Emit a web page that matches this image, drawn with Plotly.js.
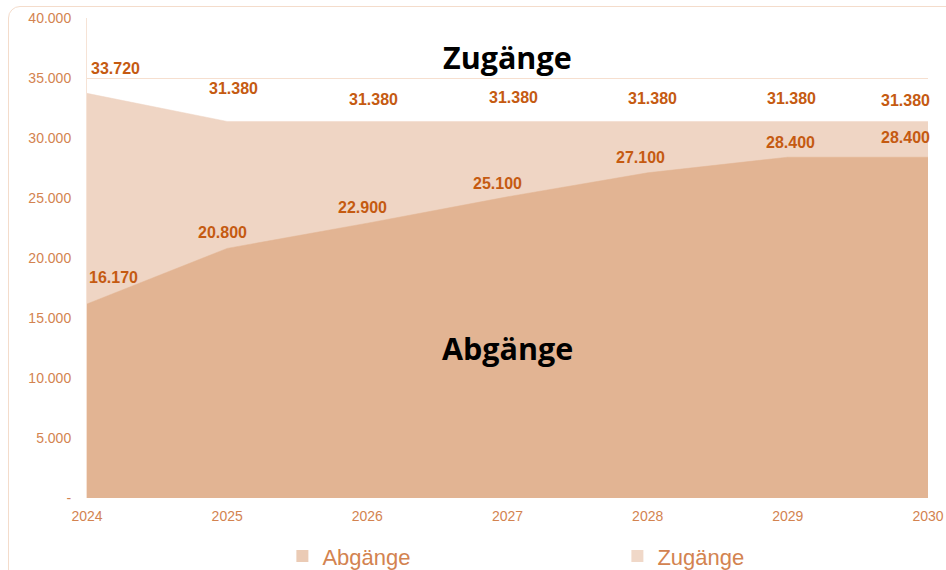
<!DOCTYPE html>
<html>
<head>
<meta charset="utf-8">
<script src="https://cdn.plot.ly/plotly-3.0.1.min.js"></script>
<style>
  html, body { margin: 0; padding: 0; background: #ffffff; overflow: hidden; }
  #frame { position: absolute; left: 8px; top: 6px; width: 1000px; height: 640px;
           border: 1.5px solid #F4DCCB; border-radius: 12px; box-sizing: border-box; }
  #chart { position: absolute; left: 0; top: 0; width: 946px; height: 570px; }
</style>
</head>
<body>
<div id="frame"></div>
<div id="chart"></div>
<script>
// ---- data ----
const years = [2024, 2025, 2026, 2027, 2028, 2029, 2030];
const abgaenge = [16170, 20800, 22900, 25100, 27100, 28400, 28400];
const zugaenge = [33720, 31380, 31380, 31380, 31380, 31380, 31380];
const yTickVals = [0, 5000, 10000, 15000, 20000, 25000, 30000, 35000, 40000];
const yTickText = ['-', '5.000', '10.000', '15.000', '20.000', '25.000', '30.000', '35.000', '40.000'];

// label offsets (styling, px)
const zugShiftX = [28, 6, 6, 6, 5, 4, -23];
const zugShiftY = [25, 33, 22, 24, 23, 23, 21];
const abgShiftX = [26, -5, -5, -10, -7, 3, -23];
const abgShiftY = [26, 16, 16, 13, 15, 15, 20];

function fmt(v) {
  return String(v).replace(/\B(?=(\d{3})+(?!\d))/g, '.');
}

const cAbg = '#E2B493';
const cZug = '#EFD5C4';
const cLabel = '#C55A11';
const cTick = '#D38350';

const traces = [
  {
    x: years, y: zugaenge, name: 'Zugänge', type: 'scatter', mode: 'lines',
    fill: 'tozeroy', fillcolor: cZug, line: { color: cZug, width: 0.5 },
    showlegend: false, hoverinfo: 'skip'
  },
  {
    x: years, y: abgaenge, name: 'Abgänge', type: 'scatter', mode: 'lines',
    fill: 'tozeroy', fillcolor: cAbg, line: { color: cAbg, width: 0.5 },
    showlegend: false, hoverinfo: 'skip'
  },
  // legend-only entries (square keys)
  { x: [null], y: [null], type: 'bar', name: 'Abgänge', marker: { color: '#EBCBB5' }, legendrank: 1 },
  { x: [null], y: [null], type: 'bar', name: 'Zugänge', marker: { color: '#F0D8C8' }, legendrank: 2 }
];

const lblFont = { family: 'Liberation Sans, Arial, sans-serif', size: 16, color: cLabel, weight: 'bold' };
const annotations = [];
years.forEach((yr, i) => {
  annotations.push({
    x: yr, y: zugaenge[i], xref: 'x', yref: 'y', text: fmt(zugaenge[i]),
    showarrow: false, xshift: zugShiftX[i], yshift: zugShiftY[i], font: lblFont
  });
  annotations.push({
    x: yr, y: abgaenge[i], xref: 'x', yref: 'y', text: fmt(abgaenge[i]),
    showarrow: false, xshift: abgShiftX[i], yshift: abgShiftY[i], font: lblFont
  });
});
annotations.push({
  x: 2027, y: 36750, xref: 'x', yref: 'y', text: '<b>Zugänge</b>', showarrow: false,
  font: { family: 'Open Sans, sans-serif', size: 30.5, color: '#000000' }
});
annotations.push({
  x: 2027, y: 12500, xref: 'x', yref: 'y', text: '<b>Abgänge</b>', showarrow: false,
  font: { family: 'Open Sans, sans-serif', size: 30.5, color: '#000000' }
});

const layout = {
  width: 946, height: 570,
  margin: { l: 87, r: 18, t: 18, b: 72, autoexpand: false },
  paper_bgcolor: 'rgba(0,0,0,0)',
  plot_bgcolor: 'rgba(0,0,0,0)',
  showlegend: true,
  legend: {
    orientation: 'h', xref: 'container', yref: 'container',
    x: 0.2985, xanchor: 'left', y: 0.024, yanchor: 'middle',
    entrywidth: 290, entrywidthmode: 'pixels',
    font: { family: 'Liberation Sans, Arial, sans-serif', size: 22, color: cTick },
    traceorder: 'normal', itemwidth: 30
  },
  xaxis: {
    range: [2024, 2030], tickvals: years, ticktext: years.map(String),
    showgrid: false, zeroline: false, showline: false, automargin: false,
    ticks: 'outside', ticklen: 5, tickcolor: 'rgba(0,0,0,0)',
    tickfont: { family: 'Liberation Sans, Arial, sans-serif', size: 14, color: cTick },
    fixedrange: true
  },
  yaxis: {
    range: [0, 40000], tickvals: yTickVals, ticktext: yTickText,
    showgrid: true, gridcolor: '#F6DFCF', gridwidth: 1, zeroline: false,
    showline: true, linecolor: '#F6E3D6', linewidth: 1, automargin: false,
    ticks: 'outside', ticklen: 12, tickcolor: 'rgba(0,0,0,0)',
    tickfont: { family: 'Liberation Sans, Arial, sans-serif', size: 14, color: cTick },
    fixedrange: true, layer: 'below traces'
  },
  annotations: annotations
};

Plotly.newPlot('chart', traces, layout, { displayModeBar: false, staticPlot: true });
</script>
</body>
</html>
